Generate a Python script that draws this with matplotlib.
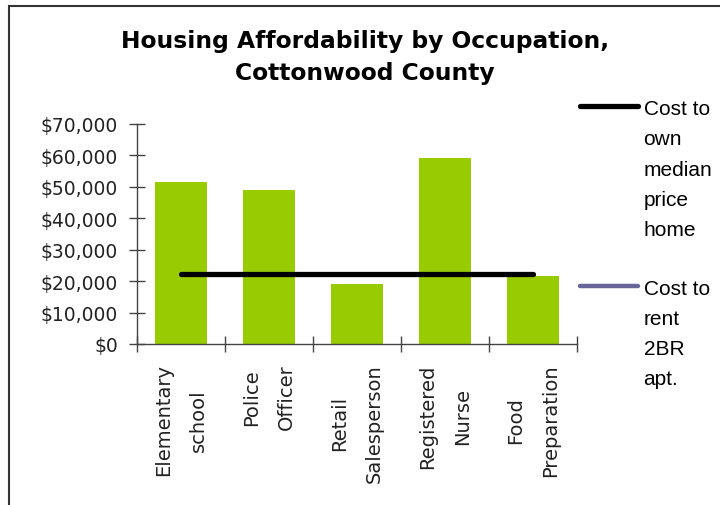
import matplotlib
matplotlib.use("Agg")
import matplotlib.pyplot as plt
import numpy as np
from matplotlib.patches import Rectangle

categories = ["Elementary\nschool", "Police\nOfficer", "Retail\nSalesperson",
              "Registered\nNurse", "Food\nPreparation"]
wages = [51500, 49000, 19100, 59200, 21600]
cost_own = [22300, 22300, 22300, 22300, 22300]
cost_rent = [np.nan, np.nan, np.nan, np.nan, np.nan]
yticks = [0, 10000, 20000, 30000, 40000, 50000, 60000, 70000]
ytick_labels = ["$0", "$10,000", "$20,000", "$30,000", "$40,000", "$50,000", "$60,000", "$70,000"]
title = "Housing Affordability by Occupation,\nCottonwood County"
own_label = "Cost to\nown\nmedian\nprice\nhome"
rent_label = "Cost to\nrent\n2BR\napt."

fig = plt.figure(figsize=(7.2, 5.06), dpi=100)
W, H = 720, 506
ax = fig.add_axes([137 / W, 1 - 345 / H, (577 - 137) / W, (345 - 125) / H])

x = np.arange(len(categories))
ax.bar(x, wages, width=0.59, color="#99CC00", zorder=2)
own_line, = ax.plot(x, cost_own, color="black", lw=3.8, solid_capstyle="round", zorder=3)
rent_line, = ax.plot(x, cost_rent, color="#666699", lw=3.2, solid_capstyle="round", zorder=3)

ax.set_xlim(-0.5, len(categories) - 0.5)
ax.set_ylim(0, 70000)
ax.set_yticks(yticks)
ax.set_yticklabels(ytick_labels, fontsize=13.5, family="DejaVu Sans", color="#222222")
ax.set_xticks(np.arange(len(categories) + 1) - 0.5)
ax.set_xticklabels([])
ax.set_xticks(x, minor=True)
ax.set_xticklabels(categories, minor=True, rotation=90, ha="center", va="top",
                   multialignment="center", fontsize=14, family="DejaVu Sans",
                   color="#222222", linespacing=2.05)
ax.tick_params(axis="x", which="minor", length=0, pad=14)
ax.tick_params(axis="both", which="major", direction="inout", length=11,
               width=1, color="#444444")
ax.tick_params(axis="y", pad=8)
for s in ["top", "right"]:
    ax.spines[s].set_visible(False)
for s in ["left", "bottom"]:
    ax.spines[s].set_color("#444444")
    ax.spines[s].set_linewidth(1)

fig.text(365 / W, 1 - 57.5 / H, title, ha="center", va="center", fontsize=16.8,
         fontweight="bold", family="DejaVu Sans", linespacing=1.45, color="black")

leg = fig.legend([own_line, rent_line], [own_label, rent_label],
                 loc="upper left", bbox_to_anchor=(580 / W, 1 - 100 / H),
                 frameon=False, borderpad=0, borderaxespad=0,
                 handlelength=2.8, handletextpad=0.25, labelspacing=1.9,
                 prop={"family": "Liberation Sans", "size": 15})
for t in leg.get_texts():
    t.set_linespacing(1.75)
for ln in leg.get_lines():
    ln.set_solid_capstyle("round")
try:
    for col in leg._legend_handle_box.get_children():
        for item in col.get_children():
            item.align = "top"
except Exception:
    pass

fig.add_artist(Rectangle((8.5 / W, -0.1), 1.2, (1 - 7 / H) + 0.1, transform=fig.transFigure,
                         fill=False, edgecolor="#333333", lw=1.5))

fig.savefig("out.png", dpi=100)
